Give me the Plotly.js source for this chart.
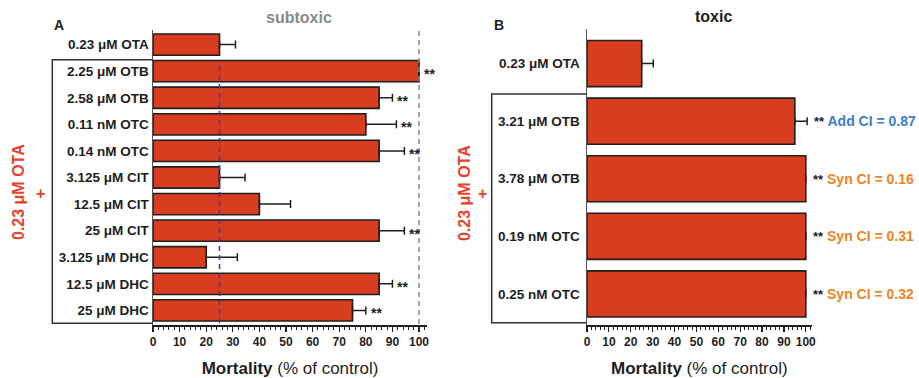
<!DOCTYPE html>
<html>
<head>
<meta charset="utf-8">
<script src="https://cdn.plot.ly/plotly-3.0.1.min.js"></script>
<style>html,body{margin:0;padding:0;background:#fff;}#chart{width:919px;height:378px;}</style>
</head>
<body>
<div id="chart"></div>
<script>
// ---- data: panel A (subtoxic) ----
const labelsA = ["0.23 μM OTA","2.25 μM OTB","2.58 μM OTB","0.11 nM OTC","0.14 nM OTC","3.125 μM CIT","12.5 μM CIT","25 μM CIT","3.125 μM DHC","12.5 μM DHC","25 μM DHC"];
const valuesA = [25, 100, 85, 80, 85, 25, 40, 85, 20, 85, 75];
const errorsA = [6, 0, 5, 11.5, 9.5, 9.6, 11.7, 9.5, 11.7, 5, 5];
const sigA    = ["", "**", "**", "**", "**", "", "", "**", "", "**", "**"];
// ---- data: panel B (toxic) ----
const labelsB = ["0.23 μM OTA","3.21 μM OTB","3.78 μM OTB","0.19 nM OTC","0.25 nM OTC"];
const valuesB = [25, 95, 100, 100, 100];
const errorsB = [5.3, 5.6, 0, 0, 0];
const sigB    = ["", "**", "**", "**", "**"];
const ciB     = ["", "Add CI = 0.87", "Syn CI = 0.16", "Syn CI = 0.31", "Syn CI = 0.32"];
const ciTypeB = ["", "add", "syn", "syn", "syn"];
const refLinesA = [25, 100];
const xTicks = [0,10,20,30,40,50,60,70,80,90,100];

const W = 919, H = 378;
const px = x => x / W, py = y => 1 - y / H;
const FONT = "Liberation Sans, Arial, sans-serif";
const BAR = "#d93d1f", RED = "#e8412c", BLUE = "#3d7cc6", ORANGE = "#ef8424", INK = "#1e1e1e";

function barTrace(labels, values, errs, xa, ya) {
  return {
    type: "bar", orientation: "h", y: labels, x: values, xaxis: xa, yaxis: ya,
    width: 0.8,
    marker: {color: BAR, line: {color: INK, width: 1.6}},
    error_x: {type: "data", symmetric: false, array: errs, arrayminus: errs.map(() => 0),
              color: INK, thickness: 1.5, width: 4},
    hoverinfo: "x+y", showlegend: false
  };
}

function xAxis(domain, range, anchor) {
  return {
    domain: domain, range: range, anchor: anchor, fixedrange: true,
    tickvals: xTicks, ticktext: xTicks.map(String),
    ticks: "outside", ticklen: 5, tickwidth: 1.2, tickcolor: INK,
    minor: {dtick: 2, ticks: "outside", ticklen: 3, tickcolor: INK, tickwidth: 1},
    showline: true, linecolor: INK, linewidth: 1.5,
    showgrid: false, zeroline: false, automargin: false,
    tickfont: {family: FONT, size: 12, color: INK, weight: "bold"},
    title: {text: "<b>Mortality</b> (% of control)", font: {family: FONT, size: 17, color: INK}, standoff: 16}
  };
}
function yAxis(domain, range, labels, anchor, standoff) {
  return {
    domain: domain, range: range, anchor: anchor, fixedrange: true,
    type: "category", categoryorder: "array", categoryarray: labels,
    ticks: "", showline: true, linecolor: "#555", linewidth: 1.5,
    showgrid: false, zeroline: false, automargin: false, ticklabelstandoff: standoff,
    tickfont: {family: FONT, size: 13.5, color: INK, weight: "bold"}
  };
}

const data = [
  barTrace(labelsA, valuesA, errorsA, "x", "y"),
  barTrace(labelsB, valuesB, errorsB, "x2", "y2")
];

const annotations = [];
labelsA.forEach((l, i) => {
  if (sigA[i]) annotations.push({xref: "x", yref: "y", x: valuesA[i] + errorsA[i], y: l, text: sigA[i],
    showarrow: false, xanchor: "left", yanchor: "middle", xshift: 3, yshift: -3,
    font: {family: FONT, size: 14, color: INK, weight: "bold"}});
});
labelsB.forEach((l, i) => {
  if (!sigB[i]) return;
  const c = ciTypeB[i] === "add" ? BLUE : ORANGE;
  annotations.push({xref: "x2", yref: "y2", x: valuesB[i] + errorsB[i], y: l,
    text: "<span style='font-size:13px'>" + sigB[i] + "</span> <span style='color:" + c + "'>" + ciB[i] + "</span>",
    showarrow: false, xanchor: "left", yanchor: "middle", xshift: 5,
    font: {family: FONT, size: 14, color: INK, weight: "bold"}});
});
const note = (x, y, text, size, color, extra) => Object.assign({
  xref: "paper", yref: "paper", x: px(x), y: py(y), text: text, showarrow: false,
  xanchor: "center", yanchor: "middle",
  font: {family: FONT, size: size, color: color, weight: "bold"}}, extra || {});
// panel titles, letters and group labels
annotations.push(
  note(299, 17, "subtoxic", 16, "#8a8a8a"),
  note(713, 16, "toxic", 16, INK),
  note(59, 25, "A", 14, INK),
  note(499, 25, "B", 14, INK),
  note(18, 192, "0.23 μM OTA", 16, RED, {textangle: -90}),
  note(40, 193, "+", 16, RED),
  note(464, 193, "0.23 μM OTA", 16, RED, {textangle: -90}),
  note(483, 193, "+", 16, RED)
);

const bracket = (x0, xAxisPx, yTop, yBot) => ({
  type: "path", xref: "paper", yref: "paper",
  path: `M ${px(xAxisPx)} ${py(yTop)} L ${px(x0)} ${py(yTop)} L ${px(x0)} ${py(yBot)} L ${px(xAxisPx)} ${py(yBot)}`,
  line: {color: "#333", width: 1.5}
});

const shapes = [
  bracket(52.3, 153, 59.7, 323.3),
  bracket(491.7, 587, 94, 322.7),
  {type: "line", xref: "x", yref: "paper", x0: refLinesA[0], x1: refLinesA[0], y0: py(66), y1: py(325),
   line: {color: "#3a3aa8", width: 1.5, dash: "5px,4px"}, layer: "above"},
  {type: "line", xref: "x", yref: "paper", x0: refLinesA[1], x1: refLinesA[1], y0: py(31), y1: py(325),
   line: {color: "#8a8a8a", width: 1.5, dash: "5px,4px"}, layer: "above"}
];

const layout = {
  width: W, height: H, margin: {l: 0, r: 0, t: 0, b: 0},
  paper_bgcolor: "#fff", plot_bgcolor: "rgba(0,0,0,0)",
  bargap: 0.2, showlegend: false,
  font: {family: FONT, color: INK},
  xaxis: xAxis([px(153), px(427)], [0, 103], "y"),
  yaxis: yAxis([py(325), py(30)], [10.55, -0.55], labelsA, "x", 0),
  xaxis2: xAxis([px(587), px(811.7)], [0, 102.7], "y2"),
  yaxis2: yAxis([py(325), py(29)], [4.54, -0.6], labelsB, "x2", 3),
  annotations: annotations, shapes: shapes
};

Plotly.newPlot("chart", data, layout, {displayModeBar: false, staticPlot: true});
</script>
</body>
</html>
